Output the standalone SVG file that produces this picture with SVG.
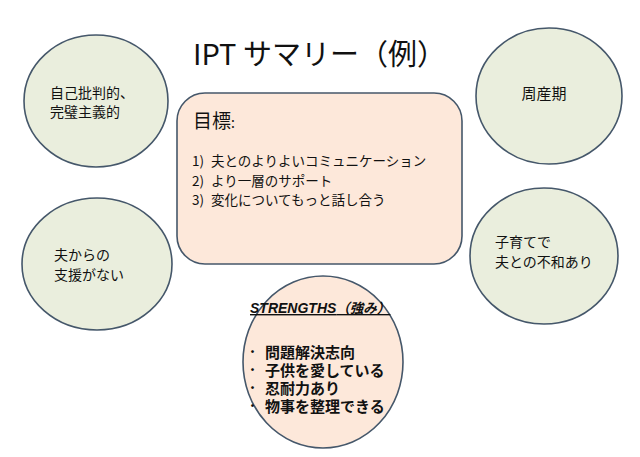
<svg xmlns="http://www.w3.org/2000/svg" width="640" height="457" viewBox="0 0 640 457">
<style>
.circ{fill:#EAEEDD;stroke:#45576A;stroke-width:1.6}
.peach{fill:#FDE8DA;stroke:#45576A;stroke-width:1.6}
text{font-family:"Noto Sans CJK JP","Noto Sans",sans-serif;fill:#111}
.ct{font-size:14px}
.li{font-size:13.5px}
.bl{font-size:15px;font-weight:bold}
.dot{font-size:11px;font-weight:bold}
</style>
<rect width="640" height="457" fill="#fff"/>
<g id="title"><text x="193" y="65" font-size="29">IPT サマリー（例）</text></g>
<g id="goals">
<rect class="peach" x="177" y="93" width="285" height="171" rx="28" ry="28"/>
<text x="193" y="128" font-size="19">目標<tspan font-size="14">:</tspan></text>
<text class="li" y="166"><tspan x="192">1)</tspan><tspan x="211">夫とのよりよいコミュニケーション</tspan></text>
<text class="li" y="185.5"><tspan x="192">2)</tspan><tspan x="211">より一層のサポート</tspan></text>
<text class="li" y="205"><tspan x="192">3)</tspan><tspan x="211">変化についてもっと話し合う</tspan></text>
</g>
<g id="perfectionism">
<ellipse class="circ" cx="96" cy="101" rx="72" ry="66"/>
<text class="ct" x="50" y="98">自己批判的、</text>
<text class="ct" x="50" y="116.5">完璧主義的</text>
</g>
<g id="perinatal">
<ellipse class="circ" cx="549" cy="96" rx="73" ry="68"/>
<text x="544" y="99" font-size="15" text-anchor="middle">周産期</text>
</g>
<g id="nosupport">
<ellipse class="circ" cx="97" cy="264" rx="75" ry="66"/>
<text class="ct" x="54" y="260">夫からの</text>
<text class="ct" x="54" y="280">支援がない</text>
</g>
<g id="discord">
<ellipse class="circ" cx="544" cy="256" rx="74" ry="68"/>
<text class="ct" x="495" y="247">子育てで</text>
<text class="ct" x="495" y="267">夫との不和あり</text>
</g>
<g id="strengths">
<ellipse class="peach" cx="323" cy="362" rx="80" ry="86"/>
<text x="250" y="313" font-size="13.5" font-weight="bold" font-style="italic" text-decoration="underline"><tspan font-family="'Liberation Sans',sans-serif" font-size="14">STRENGTHS</tspan>（強み）</text>
<text class="dot" x="247" y="356">・</text>
<text class="dot" x="247" y="374">・</text>
<text class="dot" x="247" y="392">・</text>
<text class="dot" x="247" y="410">・</text>
<text class="bl" x="265" y="358">問題解決志向</text>
<text class="bl" x="265" y="376">子供を愛している</text>
<text class="bl" x="265" y="394">忍耐力あり</text>
<text class="bl" x="265" y="412">物事を整理できる</text>
</g>
<g id="connectors"></g>
</svg>
